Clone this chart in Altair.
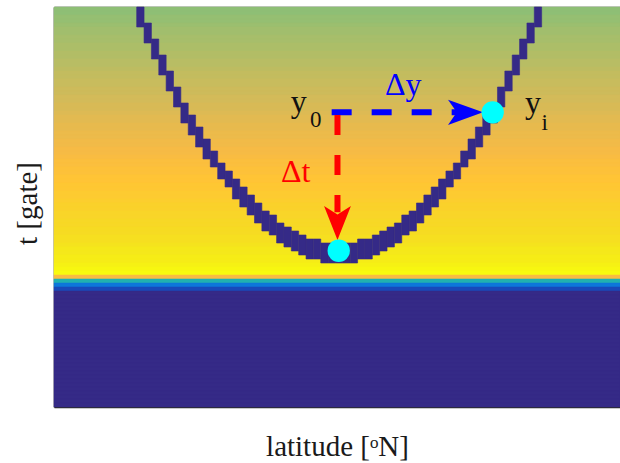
import altair as alt
import pandas as pd

# ---------------- data ----------------
# background value per gate row (row 0 = top of the panel)
bg_values = [
    0.63, 0.63, 0.64, 0.64, 0.65, 0.66, 0.66, 0.67, 0.67, 0.68,
    0.68, 0.69, 0.69, 0.70, 0.70, 0.71, 0.72, 0.72, 0.73, 0.73,
    0.74, 0.74, 0.75, 0.75, 0.76, 0.76, 0.77, 0.78, 0.78, 0.79,
    0.79, 0.80, 0.80, 0.81, 0.81, 0.82, 0.82, 0.83, 0.84, 0.84,
    0.85, 0.85, 0.86, 0.86, 0.87, 0.87, 0.88, 0.88, 0.89, 0.90,
    0.90, 0.91, 0.91, 0.92, 0.92, 0.93, 0.93, 0.94, 0.94, 0.95,
    0.96, 0.96, 0.97, 0.97, 0.98, 0.99, 1.00, 0.83, 0.45, 0.20,
    0.07, 0.00, 0.00, 0.00, 0.00, 0.00, 0.00, 0.00, 0.00, 0.00,
    0.00, 0.00, 0.00, 0.00, 0.00, 0.00, 0.00, 0.00, 0.00, 0.00,
    0.00, 0.00, 0.00, 0.00, 0.00, 0.00, 0.00, 0.00, 0.00, 0.00,
]

# trace cells: column index, first row, last row (exclusive)
curve_cols = list(range(11, 66))
curve_top = [0, 4, 8, 12, 16, 20, 24, 27, 30, 33, 36, 39, 41, 43, 45, 47, 49, 51,
             52, 54, 55, 56, 57, 58, 58, 59, 59, 59,
             59, 59, 58, 58, 57, 56, 55, 54, 52, 51, 49, 47, 45, 43, 41, 39, 36,
             33, 30, 27, 24, 20, 16, 12, 8, 4, 0]
curve_bottom = [5, 9, 13, 17, 21, 25, 29, 32, 35, 38, 40, 43, 45, 48, 50, 52, 54, 56,
                57, 59, 60, 61, 62, 63, 63, 64, 64, 64,
                64, 64, 63, 63, 62, 61, 60, 59, 57, 56, 54, 52, 50, 48, 45, 43, 40,
                38, 35, 32, 29, 25, 21, 17, 13, 9, 5]

x_domain = [-0.23, 76.64]   # latitude cells
y_domain = [0, 100]         # gates

# markers (column, gate)
marker_x = [38.44, 59.35]
marker_y = [60.93, 26.33]

# dashed arrows
dy_arrow = {"x": 37.48, "x2": 55.6, "y": 26.33}
dt_arrow = {"x": 38.27, "y": 27.0, "y2": 51.3}
dy_head = {"x": 55.66, "y": 26.33}
dt_head = {"x": 38.27, "y": 54.0}

# labels
main_labels = ["y", "Δy", "Δt", "y"]
main_x = [31.92, 44.72, 30.6, 63.74]
main_y = [26.25, 22.0, 43.75, 26.5]
main_col = ["k", "b", "r", "k"]
sub_labels = ["0", "i"]
sub_x = [34.54, 65.98]
sub_y = [29.9, 30.75]

# ---------------- style ----------------
SERIF = "Liberation Serif"
parula_dom = [0.0, 0.127, 0.254, 0.381, 0.508, 0.635, 0.698, 0.762, 0.825,
              0.857, 0.889, 0.921, 0.952, 0.984, 1.0]
parula_rng = ["#352a87", "#0363e1", "#1485d4", "#06a7c6", "#38b99e", "#92bf73",
              "#b7bd64", "#d9ba56", "#f8bb44", "#ffc337", "#fcce2e", "#f7d826",
              "#f5e41d", "#f6f313", "#f9fb0e"]
cscale = alt.Scale(domain=parula_dom, range=parula_rng, interpolate="rgb")
xs = alt.Scale(domain=x_domain, nice=False, zero=False)
ys = alt.Scale(domain=y_domain, nice=False, zero=False, reverse=True)

y_axis = alt.Axis(title="t [gate]", labels=False, ticks=False, grid=False,
                  domain=True, titleFont=SERIF, titleFontSize=29,
                  titleFontWeight="normal", titleColor="#1a1a1a",
                  titleAngle=270, titleBaseline="alphabetic", titleAlign="center",
                  titleX=-18, titleY=196)
x_axis_bottom = alt.Axis(title="latitude [ᵒN]", labels=False, ticks=False,
                         grid=False, domain=True, titleFont=SERIF,
                         titleFontSize=29, titleFontWeight="normal",
                         titleColor="#1a1a1a", titleBaseline="alphabetic",
                         titleY=48)
x_axis_top = alt.Axis(orient="top", title=None, labels=False, ticks=False,
                      grid=False, domain=True)

# ---------------- frames ----------------
bg_df = pd.DataFrame({"row": list(range(len(bg_values))), "v": bg_values})
bg_df["row2"] = bg_df["row"] + 1
bg_df["x0"] = x_domain[0]
bg_df["x1"] = x_domain[1]

curve_df = pd.DataFrame({"col": curve_cols, "top": curve_top,
                         "bottom": curve_bottom})
curve_df["col2"] = curve_df["col"] + 1
curve_df["v"] = 0.0

bg = alt.Chart(bg_df).mark_rect(strokeWidth=0.5).encode(
    x=alt.X("x0:Q", scale=xs, axis=x_axis_bottom),
    x2="x1:Q",
    y=alt.Y("row:Q", scale=ys, axis=y_axis),
    y2="row2:Q",
    color=alt.Color("v:Q", scale=cscale, legend=None),
    stroke=alt.Stroke("v:Q", scale=cscale, legend=None),
)

curve = alt.Chart(curve_df).mark_rect(strokeWidth=0.6).encode(
    x=alt.X("col:Q", scale=xs, axis=x_axis_top),
    x2="col2:Q",
    y=alt.Y("top:Q", scale=ys, axis=y_axis),
    y2="bottom:Q",
    color=alt.Color("v:Q", scale=cscale, legend=None),
    stroke=alt.Stroke("v:Q", scale=cscale, legend=None),
)

blue_line = alt.Chart(pd.DataFrame([dy_arrow])).mark_rule(
    color="#0000ff", strokeWidth=6, strokeDash=[20, 20], strokeCap="butt"
).encode(
    x=alt.X("x:Q", scale=xs, axis=None), x2="x2:Q",
    y=alt.Y("y:Q", scale=ys, axis=y_axis),
)
red_line = alt.Chart(pd.DataFrame([dt_arrow])).mark_rule(
    color="#ff0000", strokeWidth=6, strokeDash=[20, 20], strokeCap="butt"
).encode(
    x=alt.X("x:Q", scale=xs, axis=None),
    y=alt.Y("y:Q", scale=ys, axis=y_axis), y2="y2:Q",
)
blue_head = alt.Chart(pd.DataFrame([dy_head])).mark_point(
    shape="M1,0 L-1,-0.72 L-0.5,0 L-1,0.72 Z", filled=True, size=1225,
    color="#0000ff", opacity=1, strokeWidth=0
).encode(
    x=alt.X("x:Q", scale=xs, axis=None),
    y=alt.Y("y:Q", scale=ys, axis=y_axis),
)
red_head = alt.Chart(pd.DataFrame([dt_head])).mark_point(
    shape="M0,1 L-0.79,-1 L0,-0.5 L0.79,-1 Z", filled=True, size=1156,
    color="#ff0000", opacity=1, strokeWidth=0
).encode(
    x=alt.X("x:Q", scale=xs, axis=None),
    y=alt.Y("y:Q", scale=ys, axis=y_axis),
)

markers = alt.Chart(pd.DataFrame({"x": marker_x, "y": marker_y})).mark_circle(
    color="#00ffff", size=500, opacity=1
).encode(
    x=alt.X("x:Q", scale=xs, axis=None),
    y=alt.Y("y:Q", scale=ys, axis=y_axis),
)

lab_df = pd.DataFrame({"t": main_labels, "x": main_x, "y": main_y, "c": main_col})
labels = alt.Chart(lab_df).mark_text(
    font=SERIF, fontSize=32, align="left", baseline="alphabetic"
).encode(
    x=alt.X("x:Q", scale=xs, axis=None),
    y=alt.Y("y:Q", scale=ys, axis=y_axis),
    text="t:N",
    color=alt.Color("c:N", scale=alt.Scale(domain=["k", "b", "r"],
                                           range=["#111111", "#0000ff", "#ff0000"]),
                    legend=None),
)
sub_df = pd.DataFrame({"t": sub_labels, "x": sub_x, "y": sub_y})
subs = alt.Chart(sub_df).mark_text(
    font=SERIF, fontSize=23, align="left", baseline="alphabetic", color="#111111"
).encode(
    x=alt.X("x:Q", scale=xs, axis=None),
    y=alt.Y("y:Q", scale=ys, axis=y_axis),
    text="t:N",
)

chart = alt.layer(
    bg, curve, blue_line, red_line, blue_head, red_head, markers, labels, subs
).resolve_axis(x="independent").resolve_scale(color="independent").properties(
    width=566, height=400,
    autosize=alt.AutoSizeParams(type="none"),
    padding={"left": 54, "top": 7, "right": 0, "bottom": 56},
    background="white",
).configure_view(stroke=None).configure_axis(
    domainColor="#2a2a2a", domainWidth=1.6
)

chart.save("out.html", embed_options={"renderer": "svg", "actions": False})
